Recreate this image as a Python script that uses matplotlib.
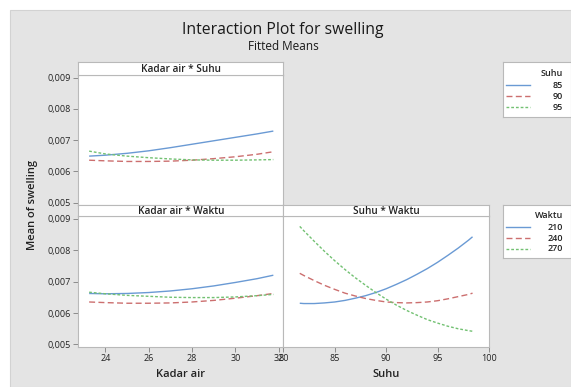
import matplotlib
matplotlib.use('Agg')
import matplotlib.pyplot as plt
from matplotlib.patches import Rectangle
from matplotlib.ticker import FuncFormatter

plt.rcParams['font.family'] = ['Open Sans', 'DejaVu Sans']

# ---------------- data ----------------
kadar_air = [23.25, 24, 25, 26, 27, 28, 29, 30, 31, 31.75]
suhu_x = [81.6, 82, 83, 84, 85, 86, 87, 88, 89, 90, 91, 92, 93, 94, 95, 96, 97, 98, 98.4]

suhu_levels = ['85', '90', '95']
waktu_levels = ['210', '240', '270']

# Kadar air * Suhu
ka_suhu_85 = [0.00649, 0.00652, 0.00658, 0.00666, 0.00676, 0.00687, 0.00698, 0.00709, 0.00720, 0.00729]
ka_suhu_90 = [0.00636, 0.00634, 0.00632, 0.00632, 0.00633, 0.00636, 0.00641, 0.00647, 0.00655, 0.00663]
ka_suhu_95 = [0.00665, 0.00656, 0.00649, 0.00644, 0.00640, 0.00637, 0.00636, 0.00636, 0.00637, 0.00638]

# Kadar air * Waktu
ka_waktu_210 = [0.00662, 0.00661, 0.00662, 0.00665, 0.00670, 0.00677, 0.00686, 0.00697, 0.00709, 0.00720]
ka_waktu_240 = [0.00635, 0.00633, 0.00631, 0.00631, 0.00632, 0.00635, 0.00640, 0.00647, 0.00655, 0.00662]
ka_waktu_270 = [0.00666, 0.00661, 0.00656, 0.00653, 0.00650, 0.00649, 0.00649, 0.00651, 0.00655, 0.00659]

# Suhu * Waktu
suhu_waktu_210 = [0.00631, 0.00630, 0.00630, 0.00632, 0.00635, 0.00640, 0.00647, 0.00655, 0.00665, 0.00677,
                  0.00691, 0.00706, 0.00723, 0.00741, 0.00761, 0.00783, 0.00806, 0.00831, 0.00842]
suhu_waktu_240 = [0.00726, 0.00719, 0.00703, 0.00688, 0.00675, 0.00663, 0.00654, 0.00646, 0.00640, 0.00635,
                  0.00633, 0.00632, 0.00633, 0.00635, 0.00639, 0.00645, 0.00652, 0.00659, 0.00663]
suhu_waktu_270 = [0.00875, 0.00861, 0.00828, 0.00796, 0.00766, 0.00738, 0.00712, 0.00688, 0.00665, 0.00644,
                  0.00625, 0.00608, 0.00593, 0.00579, 0.00568, 0.00558, 0.00550, 0.00544, 0.00542]

y_ticks = [0.005, 0.006, 0.007, 0.008, 0.009]
ka_ticks = [24, 26, 28, 30, 32]
suhu_ticks = [80, 85, 90, 95, 100]

# ---------------- style ----------------
colors = ['#6a9ad4', '#cc6f6f', '#72c172']
dashes = [None, (4.3, 2.4), (2.0, 1.4)]
frame_col = '#b9b9b9'
text_col = '#222222'

W, H = 571, 387
fig = plt.figure(figsize=(W / 100, H / 100), dpi=100)
fig.patch.set_facecolor('white')


def box(x0, y0, x1, y1):
    return [x0 / W, 1 - y1 / H, (x1 - x0) / W, (y1 - y0) / H]


fig.add_artist(Rectangle((10 / W, 0), 1 - 10 / W, 1 - 10 / H, transform=fig.transFigure,
                         facecolor='#e4e4e4', edgecolor='#d2d2d2', lw=0.8, zorder=-10))

fmt = FuncFormatter(lambda v, p: f'{v:.3f}'.replace('.', ','))
YLIM = (0.00493, 0.00908)


def style(ax):
    ax.set_facecolor('white')
    for s in ax.spines.values():
        s.set_color(frame_col)
        s.set_linewidth(0.8)
    ax.tick_params(length=3.5, width=0.7, color='#8c8c8c', labelsize=6.5,
                   labelcolor=text_col, pad=2)
    ax.set_ylim(*YLIM)


def strip(rect, label):
    s = fig.add_axes(rect)
    s.set_facecolor('white')
    s.set_xticks([])
    s.set_yticks([])
    for sp in s.spines.values():
        sp.set_color(frame_col)
        sp.set_linewidth(0.8)
    s.text(0.5, 0.45, label, ha='center', va='center', fontsize=7.2,
           color=text_col, fontweight='semibold', transform=s.transAxes)


def draw(ax, x, series):
    for ys, c, d in zip(series, colors, dashes):
        ln, = ax.plot(x, ys, color=c, lw=1.0, solid_capstyle='butt')
        if d is not None:
            ln.set_dashes(d)


# top-left
ax1 = fig.add_axes(box(78.3, 75, 283.3, 205))
style(ax1)
draw(ax1, kadar_air, [ka_suhu_85, ka_suhu_90, ka_suhu_95])
ax1.set_xlim(22.75, 32.21)
ax1.set_xticks([])
ax1.set_yticks(y_ticks)
ax1.yaxis.set_major_formatter(fmt)
strip(box(78.3, 62.3, 283.3, 75), 'Kadar air * Suhu')

# bottom-left
ax2 = fig.add_axes(box(78.3, 216, 283.3, 346.7))
style(ax2)
draw(ax2, kadar_air, [ka_waktu_210, ka_waktu_240, ka_waktu_270])
ax2.set_xlim(22.75, 32.21)
ax2.set_xticks(ka_ticks)
ax2.set_yticks(y_ticks)
ax2.yaxis.set_major_formatter(fmt)
ax2.set_xlabel('Kadar air', fontsize=8, color=text_col, fontweight='semibold', labelpad=4)
strip(box(78.3, 205, 283.3, 216), 'Kadar air * Waktu')

# bottom-right
ax3 = fig.add_axes(box(283.3, 216, 489, 346.7))
style(ax3)
draw(ax3, suhu_x, [suhu_waktu_210, suhu_waktu_240, suhu_waktu_270])
ax3.set_xlim(80, 100)
ax3.set_xticks(suhu_ticks)
ax3.set_yticks([])
ax3.set_xlabel('Suhu', fontsize=8, color=text_col, fontweight='semibold', labelpad=4)
strip(box(283.3, 205, 489, 216), 'Suhu * Waktu')

# titles
fig.text(283 / W, 1 - 30 / H, 'Interaction Plot for swelling', ha='center', va='center',
         fontsize=11.3, color='#1a1a1a')
fig.text(283 / W, 1 - 46 / H, 'Fitted Means', ha='center', va='center',
         fontsize=8.5, color='#1a1a1a')
fig.text(32 / W, 1 - 205 / H, 'Mean of swelling', ha='center', va='center', rotation=90,
         fontsize=8, color=text_col, fontweight='semibold')


def legend(rect, title, labels):
    lg = fig.add_axes(rect)
    lg.set_xlim(0, 1)
    lg.set_ylim(0, 1)
    lg.set_xticks([])
    lg.set_yticks([])
    lg.set_facecolor('white')
    for sp in lg.spines.values():
        sp.set_color(frame_col)
        sp.set_linewidth(0.8)
    lg.text(0.89, 0.80, title, ha='right', va='center', fontsize=6.5, color=text_col,
            fontweight='semibold')
    for i, (lab, c, d) in enumerate(zip(labels, colors, dashes)):
        yy = 0.58 - i * 0.205
        ln, = lg.plot([0.05, 0.41], [yy, yy], color=c, lw=1.0)
        if d is not None:
            ln.set_dashes(d)
        lg.text(0.89, yy, lab, ha='right', va='center', fontsize=6.5, color=text_col,
                fontweight='semibold')


legend(box(502.5, 62.3, 570.5, 116.7), 'Suhu', suhu_levels)
legend(box(502.5, 205, 570.5, 258), 'Waktu', waktu_levels)

fig.savefig('out.png', dpi=100, facecolor='white')
